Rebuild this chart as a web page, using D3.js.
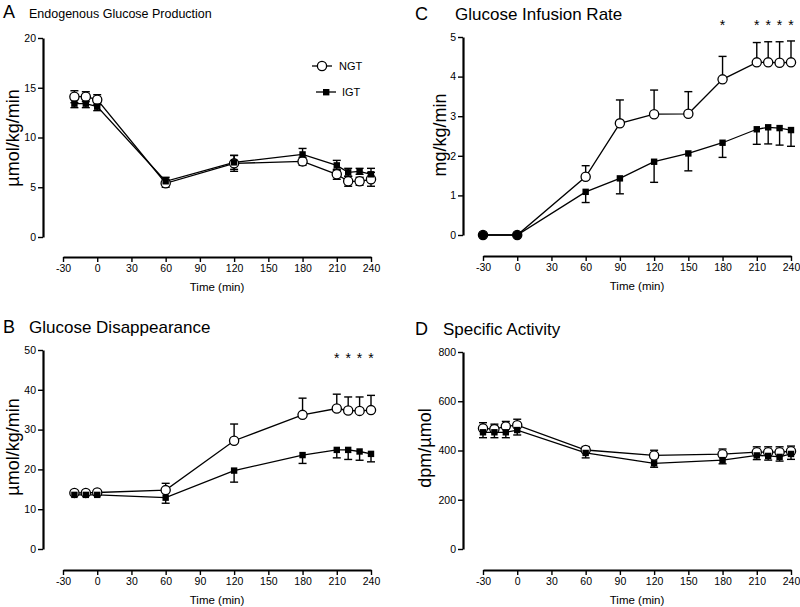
<!DOCTYPE html>
<html><head><meta charset="utf-8">
<script src="https://cdn.jsdelivr.net/npm/d3@7"></script>
<style>body{margin:0;background:#fff}svg{display:block}text{font-family:"Liberation Sans",Arial,sans-serif;fill:#000}</style>
</head><body><svg id="c" width="800" height="607"></svg>
<script>
// ---- data ----
const xTicks = [-30, 0, 30, 60, 90, 120, 150, 180, 210, 240];

// A: Endogenous Glucose Production (µmol/kg/min)
const timeA = [-20, -10, 0, 60, 120, 180, 210, 220, 230, 240];
const egpNGT = [14.1, 14.1, 13.8, 5.4, 7.4, 7.6, 6.3, 5.6, 5.6, 5.8];
const egpNGTerr = [0.6, 0.5, 0.5, 0.4, 0.8, 0.4, 0.5, 0.5, 0.4, 0.7];
const egpIGT = [13.4, 13.4, 13.1, 5.6, 7.5, 8.3, 7.2, 6.5, 6.6, 6.3];
const egpIGTerr = [0.4, 0.4, 0.4, 0.4, 0.7, 0.6, 0.5, 0.4, 0.3, 0.6];
const yTicksA = [0, 5, 10, 15, 20];

// B: Glucose Disappearance (µmol/kg/min)
const timeB = [-20, -10, 0, 60, 120, 180, 210, 220, 230, 240];
const rdNGT = [14.1, 14.1, 14.2, 14.8, 27.2, 33.7, 35.3, 34.8, 34.7, 34.9];
const rdNGTerr = [0, 0, 0, 1.7, 4.2, 4.2, 3.6, 3.4, 3.5, 3.7];
const rdIGT = [13.6, 13.6, 13.6, 12.9, 19.7, 23.6, 24.9, 24.9, 24.5, 23.9];
const rdIGTerr = [0, 0, 0, 1.4, 2.9, 2.1, 2.0, 2.4, 2.2, 2.0];
const yTicksB = [0, 10, 20, 30, 40, 50];
const starsB = [210, 220, 230, 240];

// C: Glucose Infusion Rate (mg/kg/min)
const timeC = [-30, 0, 60, 90, 120, 150, 180, 210, 220, 230, 240];
const girNGT = [0, 0, 1.47, 2.82, 3.05, 3.06, 3.93, 4.36, 4.36, 4.35, 4.36];
const girNGTerr = [0, 0, 0.28, 0.59, 0.61, 0.56, 0.58, 0.50, 0.52, 0.53, 0.54];
const girIGT = [0, 0, 1.09, 1.43, 1.85, 2.06, 2.33, 2.67, 2.72, 2.70, 2.65];
const girIGTerr = [0, 0, 0.27, 0.39, 0.52, 0.44, 0.37, 0.38, 0.42, 0.43, 0.41];
const yTicksC = [0, 1, 2, 3, 4, 5];
const starsC = [180, 210, 220, 230, 240];

// D: Specific Activity (dpm/µmol)
const timeD = [-30, -20, -10, 0, 60, 120, 180, 210, 220, 230, 240];
const saNGT = [490, 487, 498, 503, 402, 380, 385, 393, 393, 393, 397];
const saNGTerr = [23, 20, 20, 24, 14, 21, 21, 22, 22, 22, 21];
const saIGT = [474, 474, 474, 483, 390, 348, 361, 380, 378, 374, 386];
const saIGTerr = [22, 22, 22, 20, 20, 16, 15, 17, 17, 17, 22];
const yTicksD = [0, 200, 400, 600, 800];

// ---- layout ----
const svg = d3.select("#c");
const fmt = d => String(d);
const panels = [
  {letter:"A", title:"Endogenous Glucose Production", small:true, ylabel:"µmol/kg/min",
   t:timeA, ngt:egpNGT, ngtE:egpNGTerr, igt:egpIGT, igtE:egpIGTerr, yTicks:yTicksA, stars:[],
   both:true, left:43, yTop:38, yBot:237, xAxisY:257, x0:63, x1:371, lx:3, tx:29, ylx:13, yly:138, tby:18},
  {letter:"B", title:"Glucose Disappearance", ylabel:"µmol/kg/min",
   t:timeB, ngt:rdNGT, ngtE:rdNGTerr, igt:rdIGT, igtE:rdIGTerr, yTicks:yTicksB, stars:starsB,
   both:false, left:43, yTop:350, yBot:549, xAxisY:570, x0:63, x1:371, lx:3, tx:29, ylx:13, yly:447, tby:333, starY:363},
  {letter:"C", title:"Glucose Infusion Rate", ylabel:"mg/kg/min",
   t:timeC, ngt:girNGT, ngtE:girNGTerr, igt:girIGT, igtE:girIGTerr, yTicks:yTicksC, stars:starsC,
   both:false, left:463, yTop:37, yBot:235, xAxisY:256, x0:483, x1:791, lx:415, tx:455, ylx:440, yly:135, tby:20, starY:30},
  {letter:"D", title:"Specific Activity", ylabel:"dpm/µmol",
   t:timeD, ngt:saNGT, ngtE:saNGTerr, igt:saIGT, igtE:saIGTerr, yTicks:yTicksD, stars:[],
   both:false, left:463, yTop:352, yBot:549, xAxisY:570, x0:483, x1:791, lx:415, tx:443, ylx:425, yly:448, tby:335}
];

panels.forEach(p => {
  const g = svg.append("g");
  const x = d3.scaleLinear().domain([-30, 240]).range([p.x0, p.x1]);
  const yMax = p.yTicks[p.yTicks.length-1];
  const y = d3.scaleLinear().domain([0, yMax]).range([p.yBot, p.yTop]);

  // titles
  g.append("text").attr("x", p.lx).attr("y", p.tby).attr("font-size", 18).text(p.letter);
  g.append("text").attr("x", p.tx).attr("y", p.tby)
    .attr("font-size", p.small ? 12.5 : 17).text(p.title);

  // y axis
  const ya = g.append("g").attr("transform", `translate(${p.left},0)`)
    .call(d3.axisLeft(y).tickValues(p.yTicks).tickFormat(fmt).tickSize(5).tickPadding(2).tickSizeOuter(0));
  ya.select(".domain").attr("stroke-width", 2.2);
  ya.selectAll(".tick line").attr("stroke-width", 1.4);
  ya.selectAll("text").attr("font-size", 10.5).style("font-family", '"Liberation Sans",Arial,sans-serif');

  // x axis
  const xa = g.append("g").attr("transform", `translate(0,${p.xAxisY})`)
    .call(d3.axisBottom(x).tickValues(xTicks).tickFormat(fmt).tickSize(5).tickPadding(3).tickSizeOuter(0));
  xa.select(".domain").attr("stroke-width", 2.2);
  xa.selectAll(".tick line").attr("stroke-width", 1.4);
  xa.selectAll("text").attr("font-size", 10.5).style("font-family", '"Liberation Sans",Arial,sans-serif');
  g.append("text").attr("x", (p.x0 + p.x1)/2).attr("y", p.xAxisY + 34).attr("text-anchor", "middle")
    .attr("font-size", 11.5).text("Time (min)");

  // y label
  g.append("text").attr("transform", `translate(${p.ylx},${p.yly}) rotate(-90)`).attr("text-anchor", "middle")
    .attr("dy", "0.35em").attr("font-size", 18).text(p.ylabel);

  const line = d3.line().x(d => x(d[0])).y(d => y(d[1]));
  const ngtPts = p.t.map((t, i) => [t, p.ngt[i], p.ngtE[i]]);
  const igtPts = p.t.map((t, i) => [t, p.igt[i], p.igtE[i]]);
  [ngtPts, igtPts].forEach(pts => g.append("path").attr("d", line(pts)).attr("fill", "none")
    .attr("stroke", "#000").attr("stroke-width", 1.3));

  // error bars
  function errBars(pts, dir) {
    pts.forEach(d => {
      if (!d[2]) return;
      const cx = x(d[0]);
      const ends = [];
      if (p.both || dir > 0) ends.push(y(d[1] + d[2]));
      if (p.both || dir < 0) ends.push(y(d[1] - d[2]));
      ends.forEach(ey => {
        g.append("line").attr("x1", cx).attr("x2", cx).attr("y1", y(d[1])).attr("y2", ey)
          .attr("stroke", "#000").attr("stroke-width", 1.4);
        g.append("line").attr("x1", cx - 4).attr("x2", cx + 4).attr("y1", ey).attr("y2", ey)
          .attr("stroke", "#000").attr("stroke-width", 1.4);
      });
    });
  }
  errBars(ngtPts, 1);
  errBars(igtPts, -1);

  // markers
  g.selectAll(".ngt").data(ngtPts).join("circle").attr("cx", d => x(d[0])).attr("cy", d => y(d[1]))
    .attr("r", 4.6).attr("fill", (d, i) => (d[1] === 0 && igtPts[i][1] === 0) ? "#000" : "#fff")
    .attr("stroke", "#000").attr("stroke-width", 1.3);
  g.selectAll(".igt").data(igtPts.filter(d => d[1] !== 0)).join("rect")
    .attr("x", d => x(d[0]) - 3.2).attr("y", d => y(d[1]) - 3.2).attr("width", 6.4).attr("height", 6.4)
    .attr("fill", "#000");

  // significance stars
  p.stars.forEach(s => g.append("text").attr("x", x(s)).attr("y", p.starY).attr("text-anchor", "middle")
    .attr("font-size", 14).text("*"));
});

// legend in panel A
const lg = svg.append("g");
lg.append("line").attr("x1", 312).attr("x2", 332).attr("y1", 66).attr("y2", 66).attr("stroke", "#000").attr("stroke-width", 1.3);
lg.append("circle").attr("cx", 322).attr("cy", 66).attr("r", 4.6).attr("fill", "#fff").attr("stroke", "#000").attr("stroke-width", 1.3);
lg.append("text").attr("x", 339).attr("y", 70).attr("font-size", 11).text("NGT");
lg.append("line").attr("x1", 316).attr("x2", 336).attr("y1", 92).attr("y2", 92).attr("stroke", "#000").attr("stroke-width", 1.3);
lg.append("rect").attr("x", 323).attr("y", 89).attr("width", 6.4).attr("height", 6.4).attr("fill", "#000");
lg.append("text").attr("x", 342).attr("y", 96).attr("font-size", 11).text("IGT");
</script></body></html>
